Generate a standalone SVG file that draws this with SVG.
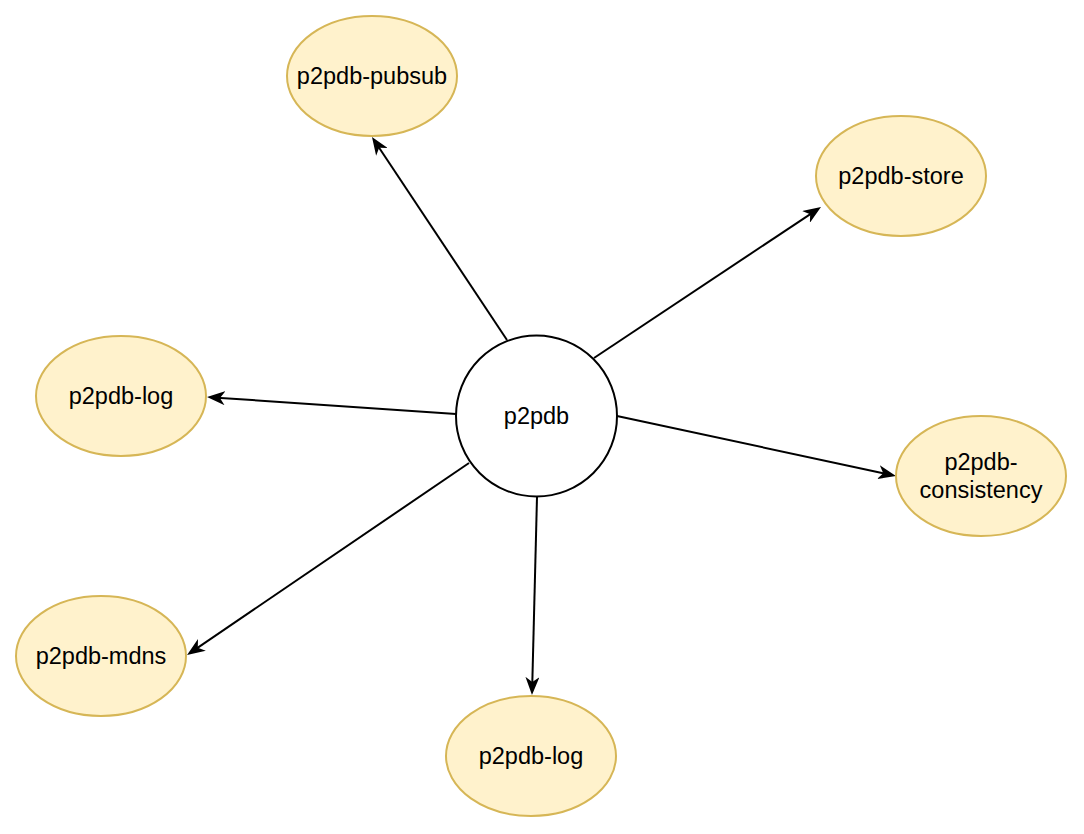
<svg xmlns="http://www.w3.org/2000/svg" width="1084" height="834" viewBox="0 0 1084 834">
  <style>
    .leaf { fill: #fff2cc; stroke: #d6b656; stroke-width: 2; }
    .hub { fill: #ffffff; stroke: #000000; stroke-width: 2; }
    .lbl { font-family: "Liberation Sans", Arial, Helvetica, sans-serif; font-size: 23.5px; fill: #000000; text-anchor: middle; }
    .edge { stroke: #000000; stroke-width: 2; fill: none; marker-end: url(#arrow); }
  </style>
  <defs>
    <marker id="arrow" viewBox="0 0 18 14" refX="12" refY="7" markerWidth="18" markerHeight="14" markerUnits="userSpaceOnUse" orient="auto">
      <path d="M0,0 L18,7 L0,14 L5,7 Z" fill="#000000"/>
    </marker>
  </defs>
  <rect width="1084" height="834" fill="#ffffff"/>

  <g id="connectors">
    <line class="edge" x1="507" y1="340" x2="375.3" y2="142"/>
    <line class="edge" x1="594" y1="358" x2="816" y2="210.3"/>
    <line class="edge" x1="456" y1="414" x2="213" y2="397.4"/>
    <line class="edge" x1="617" y1="416" x2="890.1" y2="474.7"/>
    <line class="edge" x1="469" y1="463" x2="192" y2="651.6"/>
    <line class="edge" x1="537" y1="497" x2="532.15" y2="689"/>
  </g>

  <g id="p2pdb">
    <circle class="hub" cx="536.5" cy="416" r="80.5"/>
    <text class="lbl" x="536.5" y="424">p2pdb</text>
  </g>
  <g id="p2pdb-pubsub">
    <ellipse class="leaf" cx="372" cy="76" rx="85" ry="60"/>
    <text class="lbl" x="372" y="84">p2pdb-pubsub</text>
  </g>
  <g id="p2pdb-store">
    <ellipse class="leaf" cx="901" cy="176" rx="85" ry="60"/>
    <text class="lbl" x="901" y="184">p2pdb-store</text>
  </g>
  <g id="p2pdb-log-left">
    <ellipse class="leaf" cx="121" cy="396" rx="85" ry="60"/>
    <text class="lbl" x="121" y="404">p2pdb-log</text>
  </g>
  <g id="p2pdb-consistency">
    <ellipse class="leaf" cx="981" cy="476" rx="85" ry="60"/>
    <text class="lbl" x="981" y="470">p2pdb-</text>
    <text class="lbl" x="981" y="498">consistency</text>
  </g>
  <g id="p2pdb-mdns">
    <ellipse class="leaf" cx="101" cy="656" rx="85" ry="60"/>
    <text class="lbl" x="101" y="664">p2pdb-mdns</text>
  </g>
  <g id="p2pdb-log-bottom">
    <ellipse class="leaf" cx="531" cy="756" rx="85" ry="60"/>
    <text class="lbl" x="531" y="764">p2pdb-log</text>
  </g>
</svg>
